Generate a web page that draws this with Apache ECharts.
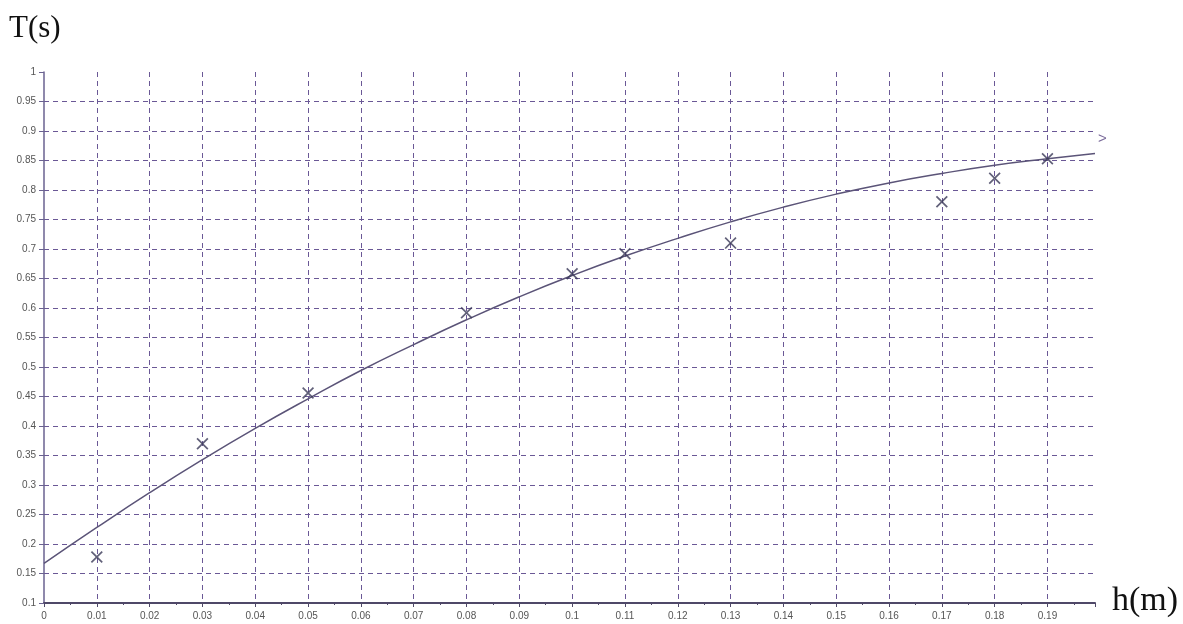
<!DOCTYPE html>
<html>
<head>
<meta charset="utf-8">
<script src="https://cdn.jsdelivr.net/npm/echarts@6/dist/echarts.min.js"></script>
<style>
html,body{margin:0;padding:0;background:#fff;}
#c{width:1183px;height:624px;}
</style>
</head>
<body>
<div id="c"></div>
<script>
// Measured points (h in m, T in s)
var pointH = [0.01, 0.03, 0.05, 0.08, 0.10, 0.11, 0.13, 0.17, 0.18, 0.19];
var pointT = [0.178, 0.37, 0.456, 0.592, 0.658, 0.692, 0.71, 0.78, 0.82, 0.853];

// Fitted curve
var curveH = [0, 0.01, 0.02, 0.03, 0.04, 0.05, 0.06, 0.07, 0.08, 0.09, 0.10, 0.11, 0.12, 0.13, 0.14, 0.15, 0.16, 0.17, 0.18, 0.19, 0.199];
var curveT = [0.167, 0.228, 0.287, 0.343, 0.396, 0.446, 0.494, 0.538, 0.580, 0.619, 0.655, 0.688, 0.718, 0.746, 0.771, 0.793, 0.812, 0.828, 0.842, 0.853, 0.862];

// Axis ticks
var xTickLabels = ['0','0.01','0.02','0.03','0.04','0.05','0.06','0.07','0.08','0.09','0.1','0.11','0.12','0.13','0.14','0.15','0.16','0.17','0.18','0.19'];
var yTickLabels = ['0.1','0.15','0.2','0.25','0.3','0.35','0.4','0.45','0.5','0.55','0.6','0.65','0.7','0.75','0.8','0.85','0.9','0.95','1'];

var yTitle = 'T(s)';
var xTitle = 'h(m)';

var curveData = curveH.map(function(h, i){ return [h, curveT[i]]; });
var pointData = pointH.map(function(h, i){ return [h, pointT[i]]; });

var gridColor = '#6a5896';
var chart = echarts.init(document.getElementById('c'), null, {renderer: 'canvas'});
chart.setOption({
  backgroundColor: '#ffffff',
  animation: false,
  grid: {left: 44, right: 88, top: 72, bottom: 21, containLabel: false},
  xAxis: {
    type: 'value', min: 0, max: 0.199, interval: 0.01,
    axisLine: {show: true, lineStyle: {color: '#4f4868', width: 2}},
    axisTick: {show: true, length: 4, lineStyle: {color: '#4f4868'}},
    minorTick: {show: true, splitNumber: 2, length: 2, lineStyle: {color: '#4f4868'}},
    axisLabel: {
      fontFamily: 'Liberation Sans, Arial, sans-serif', fontSize: 10, color: '#555', margin: 8,
      formatter: function(v){ var i = Math.round(v * 100); return (i <= 19 && Math.abs(v*100 - i) < 1e-6) ? xTickLabels[i] : ''; }
    },
    splitLine: {show: true, showMinLine: false, showMaxLine: false, lineStyle: {color: gridColor, type: [5, 4], width: 1}}
  },
  yAxis: {
    type: 'value', min: 0.1, max: 1, interval: 0.05,
    axisLine: {show: true, lineStyle: {color: '#6a6290', width: 1.5}},
    axisTick: {show: true, length: 5, lineStyle: {color: '#6a6290'}},
    axisLabel: {
      fontFamily: 'Liberation Sans, Arial, sans-serif', fontSize: 10, color: '#555', margin: 8,
      formatter: function(v){ var i = Math.round((v - 0.1) / 0.05); return yTickLabels[i] || ''; }
    },
    splitLine: {show: true, showMinLine: false, showMaxLine: false, lineStyle: {color: gridColor, type: [5, 4], width: 1}}
  },
  graphic: [
    {type: 'text', left: 9, top: 13, style: {text: yTitle, font: '31px "Liberation Serif", "Times New Roman", serif', fill: '#111'}},
    {type: 'text', left: 1112, top: 584, style: {text: xTitle, font: '34px "Liberation Serif", "Times New Roman", serif', fill: '#111'}},
    {type: 'text', left: 1098, top: 131, style: {text: '>', font: '15px "Liberation Sans", sans-serif', fill: '#7a6a9a'}}
  ],
  series: [
    {
      type: 'line', data: curveData, smooth: true, symbol: 'none', silent: true,
      lineStyle: {color: '#5b5478', width: 1.5}, z: 3
    },
    {
      type: 'scatter', data: pointData,
      symbol: 'path://M0,1 L1,0 L5,4 L9,0 L10,1 L6,5 L10,9 L9,10 L5,6 L1,10 L0,9 L4,5 Z',
      symbolSize: 12, itemStyle: {color: '#3a3858'}, z: 4
    }
  ]
});
</script>
</body>
</html>
